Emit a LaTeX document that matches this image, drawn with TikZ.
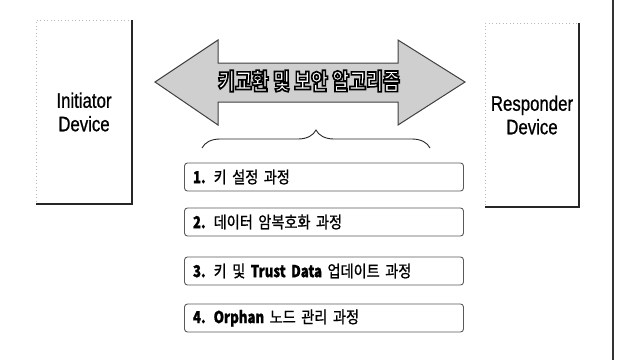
\documentclass[tikz,border=0pt]{standalone}
\usepackage{fontspec}
\usetikzlibrary{decorations.pathreplacing}
\newfontfamily\krfont{Noto Sans CJK KR}[FakeStretch=0.86, FakeBold=1, BoldFont={Noto Sans CJK KR Black}, BoldFeatures={FakeStretch=0.8}]
\newfontfamily\krtitle{Noto Sans CJK KR Black}[FakeStretch=0.8, FakeBold=7]
\newfontfamily\devfont{Liberation Sans}[FakeStretch=0.8, FakeBold=0.8]
\newcommand{\outlinetext}[1]{\color{white}\special{pdf:literal direct 0 G}#1}
\newcommand{\numgap}{\hspace{8pt}}
\tikzset{
  devbox/.style={draw=gray!55, dash pattern=on 1pt off 2.5pt, line width=0.5pt,
    fill=white, align=center, font=\devfont\fontsize{21}{23.5}\selectfont, inner sep=0pt},
  devedge/.style={draw=black!85, line width=1.6pt},
  stepitem/.style={draw=black!65, line width=0.9pt, rounded corners=3pt, fill=white,
    minimum width=279pt, minimum height=28pt, text width=262pt, align=left,
    inner sep=0pt},
  steptext/.style={font=\krfont\fontsize{16.5}{19}\selectfont},
  bigarrow/.style={draw=black!75, line width=1pt, fill=gray!38, line join=miter},
  bracestyle/.style={draw=black!85, line width=0.9pt, decorate,
    decoration={brace, amplitude=18pt}},
  sepline/.style={draw=black!80, line width=2pt}
}
\begin{document}
\begin{tikzpicture}[x=1pt, y=-1pt]
\useasboundingbox (0,0) rectangle (617,360);
% devices
\node[devbox, minimum width=96pt, minimum height=184pt] (init) at (84,112) {Initiator\\Device};
\draw[devedge] (init.north east) -- (init.south east) -- (init.south west);
\node[devbox, minimum width=94pt, minimum height=184pt] (resp) at (532,115) {Responder\\Device};
\draw[devedge] (resp.north east) -- (resp.south east) -- (resp.south west);
% double arrow
\draw[bigarrow] (155,82) -- (218,40) -- (218,63) -- (398,63) -- (398,40) -- (465,82)
  -- (398,125) -- (398,102) -- (218,102) -- (218,125) -- cycle;
\node (alg) at (309,81) {\krtitle\fontsize{23}{25}\selectfont\outlinetext{키교환 및 보안 알고리즘}};
% brace
\coordinate (bl) at (202,148);
\coordinate (br) at (430,148);
\draw[bracestyle] (bl) -- (br);
% steps
\node[stepitem, steptext] (s1) at (324,177) {\textbf{1.}\numgap 키 설정 과정};
\node[stepitem, steptext] (s2) at (324,222) {\textbf{2.}\numgap 데이터 암복호화 과정};
\node[stepitem, steptext] (s3) at (324,271) {\textbf{3.}\numgap 키 및 \textbf{Trust Data} 업데이트 과정};
\node[stepitem, steptext] (s4) at (324,318) {\textbf{4.}\numgap \textbf{Orphan} 노드 관리 과정};
% right separator
\coordinate (vt) at (613,0);
\coordinate (vb) at (613,360);
\draw[sepline] (vt) -- (vb);
\end{tikzpicture}
\end{document}
